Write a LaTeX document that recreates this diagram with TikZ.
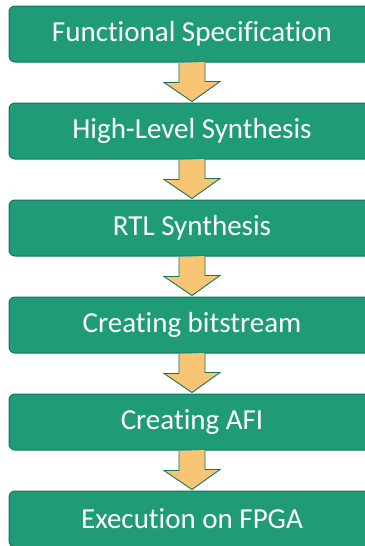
\documentclass[tikz,border=0pt]{standalone}
\usepackage{fontspec}
\setmainfont[Ligatures={NoCommon,NoRequired}]{Carlito}
\usetikzlibrary{positioning, calc}
\definecolor{boxgreen}{HTML}{1F9B78}
\definecolor{boxedge}{HTML}{17755B}
\definecolor{arrowfill}{HTML}{F7C574}
\tikzset{
    stage/.style={draw=boxedge, line width=1pt, fill=boxgreen, rounded corners=6pt,
        minimum width=366pt, minimum height=56pt, inner sep=0pt,
        text=white, font=\fontsize{29}{33}\selectfont},
    downarrow/.style={draw=boxedge, line width=0.9pt, fill=arrowfill, line join=miter}
}

\begin{document}
\begin{tikzpicture}[x=1pt, y=1pt]
    \useasboundingbox (0,0) rectangle (364,-546);
    % Flow stages
    \node[stage] (S1) at (192,-34) {Functional Specification};
    \node[stage, below=40pt of S1] (S2) {High-Level Synthesis};
    \node[stage, below=40pt of S2] (S3) {RTL Synthesis};
    \node[stage, below=40pt of S3] (S4) {Creating bitstream};
    \node[stage, below=40pt of S4] (S5) {Creating AFI};
    \node[stage, below=40pt of S5] (S6) {Execution on FPGA};

    % Block arrows between stages
    \foreach \a/\b in {S1/S2, S2/S3, S3/S4, S4/S5, S5/S6} {
        \draw[downarrow] ($(\a.south)+(-13,-0.5)$) -- ++(0,-19.5) -- ++(-15,0)
            -- ($(\b.north)+(0,1)$) -- ++(28,20) -- ++(-15,0) -- ++(0,19.5);
    }
\end{tikzpicture}
\end{document}
